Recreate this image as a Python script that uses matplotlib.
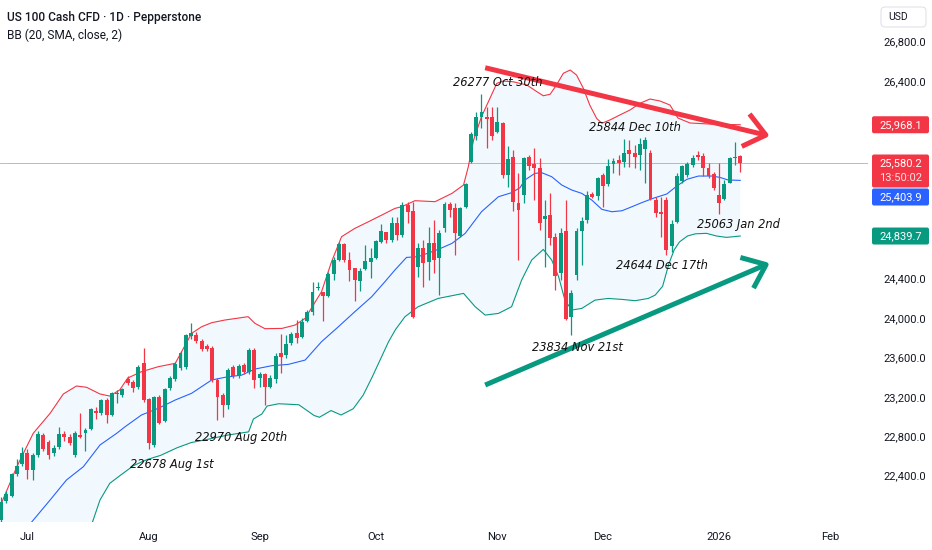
import numpy as np
import matplotlib
matplotlib.use('Agg')
import matplotlib.pyplot as plt
from matplotlib.patches import FancyBboxPatch
from matplotlib import font_manager as fm

# daily candles, first visible bar (late June) to the last one (early Jan)
opens = [21960, 22153, 22203, 22427, 22528, 22640, 22467, 22619, 22822, 22751,
         22640, 22700, 22832, 22802, 22619, 22822, 22842, 22883, 23065, 23045,
         23177, 23025, 23238, 23228, 23390, 23360, 23309, 23552, 23187, 22720,
         23207, 22964, 23299, 23390, 23500, 23511, 23826, 23836, 23775, 23724,
         23704, 23380, 23227, 23126, 23511, 23420, 23532, 23461, 23684, 23403,
         23437, 23312, 23389, 23650, 23633, 23751, 23853, 23819, 23978, 24072,
         24309, 24268, 24234, 24451, 24596, 24755, 24596, 24512, 24383, 24505,
         24579, 24620, 24782, 24877, 24799, 24975, 24850, 25154, 25096, 24528,
         24714, 24579, 24765, 24613, 24917, 25164, 25120, 24839, 25130, 25593,
         25853, 26043, 26049, 26043, 25897, 25982, 25458, 25637, 25171, 25255,
         25637, 25570, 25526, 25008, 25052, 24826, 24461, 24893, 24015, 24444,
         24893, 25002, 25265, 25245, 25458, 25367, 25570, 25610, 25593, 25711,
         25678, 25661, 25718, 25685, 25205, 25087, 25205, 24739, 24985, 25398,
         25459, 25560, 25661, 25651, 25526, 25469, 25256, 25212, 25381, 25628,
         25651]
highs = [22190, 22250, 22440, 22579, 22700, 22680, 22640, 22862, 22840, 22770,
         22720, 22903, 22862, 22830, 22860, 23045, 22890, 23100, 23106, 23190,
         23200, 23260, 23278, 23300, 23420, 23380, 23530, 23704, 23200, 23220,
         23230, 23300, 23420, 23560, 23670, 23850, 23958, 23870, 23800, 23740,
         23720, 23400, 23250, 23500, 23530, 23540, 23550, 23700, 23700, 23464,
         23450, 23430, 23650, 23842, 23836, 23869, 23988, 24005, 24089, 24376,
         24376, 24275, 24478, 24630, 24782, 24765, 24674, 24520, 24512, 24748,
         24714, 24800, 24958, 24883, 25036, 25035, 25188, 25188, 25188, 24772,
         24799, 24934, 25002, 24900, 25188, 25188, 25171, 25137, 25380, 25897,
         26100, 26277, 26151, 26151, 26151, 25999, 25752, 25711, 25475, 25644,
         25661, 25728, 25627, 25204, 25272, 24866, 24917, 25204, 24292, 24917,
         25035, 25299, 25289, 25441, 25475, 25617, 25627, 25661, 25820, 25813,
         25762, 25830, 25844, 25712, 25239, 25239, 25239, 25002, 25475, 25560,
         25594, 25661, 25705, 25678, 25577, 25492, 25584, 25408, 25644, 25796,
         25661]
lows = [21930, 22130, 22190, 22410, 22510, 22376, 22366, 22600, 22660, 22579,
        22610, 22680, 22761, 22720, 22600, 22790, 22660, 22870, 22984, 23030,
        22944, 23010, 23146, 23210, 23330, 23260, 23290, 23160, 22678, 22700,
        22930, 22950, 23280, 23370, 23480, 23490, 23800, 23750, 23670, 23670,
        23359, 22970, 23004, 23090, 23400, 23400, 23440, 23440, 23299, 23312,
        23126, 23295, 23346, 23447, 23606, 23734, 23751, 23809, 23964, 24038,
        24292, 23978, 24224, 24393, 24586, 24579, 24383, 24180, 24282, 24495,
        24410, 24610, 24765, 24765, 24782, 24799, 24833, 24968, 24004, 24427,
        24326, 24393, 24461, 24241, 24883, 25035, 24647, 24826, 25120, 25576,
        25813, 25931, 25728, 25813, 25887, 25424, 25340, 25096, 24596, 25171,
        25509, 25204, 24900, 24528, 24748, 24292, 24393, 23988, 23834, 24393,
        24545, 24968, 25221, 25204, 25137, 25346, 25475, 25458, 25543, 25543,
        25526, 25509, 25373, 25205, 25036, 24833, 24644, 24681, 24968, 25374,
        25442, 25543, 25611, 25448, 25425, 25306, 25063, 25205, 25374, 25560,
        25492]
closes = [22143, 22224, 22427, 22508, 22640, 22467, 22619, 22832, 22680, 22619,
          22690, 22832, 22802, 22741, 22842, 22802, 22873, 23086, 23045, 23177,
          23025, 23248, 23248, 23289, 23349, 23299, 23511, 23177, 22740, 23207,
          22944, 23289, 23400, 23542, 23653, 23836, 23856, 23775, 23694, 23694,
          23380, 23207, 23126, 23481, 23420, 23522, 23461, 23684, 23380, 23437,
          23312, 23396, 23623, 23616, 23741, 23842, 23809, 23971, 24072, 24268,
          24322, 24234, 24451, 24596, 24755, 24596, 24495, 24393, 24485, 24586,
          24613, 24789, 24890, 24799, 24968, 24850, 25154, 25086, 24021, 24714,
          24562, 24765, 24596, 24866, 25164, 25103, 24866, 25120, 25363, 25874,
          26043, 26100, 26022, 25853, 25999, 25458, 25617, 25188, 25103, 25627,
          25549, 25526, 24975, 25042, 24816, 24434, 24873, 23994, 24258, 24893,
          24995, 25255, 25231, 25424, 25346, 25549, 25603, 25583, 25684, 25671,
          25637, 25772, 25813, 25212, 25077, 25063, 24698, 24962, 25448, 25550,
          25570, 25628, 25638, 25526, 25448, 25323, 25171, 25367, 25628, 25645,
          25580.2]

# bollinger bands (bar position, price)
upper_x = [-0.2, 3, 6.1, 9.3, 11.8, 14.3, 16.2, 18.75, 20.6, 22.5, 24, 26.6, 29.8, 33,
           36.1, 38, 39.9, 42.4, 46.8, 48.1, 50, 53.2, 55.7, 57.6, 60.7, 62.6, 64.5,
           67, 69.6, 72.1, 74.6, 75.9, 78.4, 82.2, 85.4, 87.6, 88.5, 89.5, 91, 92.6,
           93.9, 95.1, 97, 99.6, 101.5, 102.7, 104, 105.2, 106.5, 107.8, 109, 110.3,
           111.5, 112.8, 113.8, 115.3, 117.2, 119.1, 121, 122.9, 124.8, 126.7, 128.2,
           130.5, 134.3, 140]
upper = [22095, 22501, 22839, 23042, 23238, 23319, 23306, 23238, 23217, 23280, 23400,
         23464, 23515, 23549, 23853, 23920, 23961, 23988, 24022, 23954, 23900, 23903,
         23937, 24005, 24275, 24579, 24833, 24917, 24985, 25052, 25120, 25137, 25198,
         25188, 25272, 25357, 25542, 25813, 26050, 26236, 26388, 26411, 26404, 26371,
         26303, 26262, 26277, 26371, 26490, 26523, 26472, 26337, 26168, 26033, 25983,
         26016, 26067, 26117, 26185, 26229, 26209, 26168, 26036, 25986, 25975, 25968.1]
basis_x = [5.5, 9.3, 12.4, 15.6, 18.75, 21.9, 23.5, 26.6, 29.8, 33, 36.1, 39.9, 42.4,
           45.6, 48.1, 51.3, 54.4, 57.6, 60.7, 63.9, 67, 70.2, 72.7, 74.6, 76.8, 79,
           82.8, 85.4, 87.9, 91, 94.2, 96.7, 98.3, 99.2, 101.1, 102.4, 104.3, 106.2,
           108.1, 110, 111.9, 113.8, 115.7, 117.6, 119.5, 121.3, 123.5, 126.1, 128,
           129.9, 132.1, 134.6, 136.1, 137.7, 140]
basis = [21920, 22163, 22366, 22501, 22721, 22839, 22906, 23025, 23093, 23177, 23245,
         23380, 23407, 23430, 23491, 23525, 23538, 23582, 23768, 23920, 24072, 24224,
         24376, 24495, 24623, 24630, 24704, 24765, 24866, 25086, 25238, 25279, 25330,
         25407, 25475, 25482, 25441, 25357, 25306, 25272, 25204, 25110, 25086, 25096,
         25137, 25177, 25222, 25266, 25347, 25415, 25448, 25448, 25435, 25408, 25403.9]
lower_x = [17.2, 18.75, 20.6, 22.5, 25.1, 27.65, 30.2, 33.4, 36, 39.2, 43, 46.9, 47.8,
           49.4, 50.4, 52.6, 56.4, 59.3, 60.3, 62.5, 64.4, 66.7, 68.6, 70.3, 73.4,
           74.7, 76.5, 79, 82.8, 87.6, 89.8, 91.7, 94.2, 96.7, 98.6, 100.5, 102.7,
           104.3, 105.6, 106.8, 108.1, 110, 112.5, 115, 117.6, 120.1, 122.6, 123.9,
           125.3, 126.5, 127.5, 128.5, 130, 131.5, 133.6, 135.5, 137.4, 140]
lower = [21920, 22163, 22332, 22409, 22512, 22573, 22615, 22694, 22745, 22779, 22822,
         22854, 22984, 23035, 23116, 23139, 23129, 23020, 23002, 23070, 23025, 23088,
         23227, 23410, 23768, 23890, 24021, 24123, 24207, 24258, 24123, 24038, 24055,
         24123, 24393, 24596, 24704, 24596, 24427, 24190, 24089, 24106, 24190, 24207,
         24197, 24184, 24207, 24241, 24330, 24560, 24700, 24780, 24840, 24862, 24867,
         24840, 24826, 24839.7]

# user drawn trend lines: (bar, price) start and arrow tip
res_line = [(91.7, 26546), (145.6, 25854)]
sup_line = [(91.7, 23329), (145.6, 24566)]

notes = [('26277 Oct 30th', 94.0, 26401),
         ('25844 Dec 10th', 120.1, 25945),
         ('25063 Jan 2nd', 139.6, 24961),
         ('24644 Dec 17th', 125.2, 24536),
         ('23834 Nov 21st', 109.1, 23709),
         ('22970 Aug 20th', 45.4, 22797),
         ('22678 Aug 1st', 32.4, 22518)]

month_pos = [5, 28, 49, 71, 94, 114, 136, 157]
month_lbl = ['Jul', 'Aug', 'Sep', 'Oct', 'Nov', 'Dec', '2026', 'Feb']
price_ticks = [26800, 26400, 24400, 24000, 23600, 23200, 22800, 22400]

GREEN = '#089981'
RED = '#F23645'
BLUE = '#2962FF'
TXT = '#131722'

def has_font(name, **kw):
    try:
        fm.findfont(fm.FontProperties(family=name, **kw), fallback_to_default=False)
        return True
    except Exception:
        return False

ui_font = 'Roboto' if has_font('Roboto') else 'DejaVu Sans'
if has_font('Liberation Sans Narrow', style='italic'):
    note_font = dict(family='Liberation Sans Narrow', style='italic', fontsize=10.5)
else:
    note_font = dict(family='DejaVu Sans', style='italic', stretch='condensed',
                     fontsize=9.2)

W, H = 932, 550
fig = plt.figure(figsize=(W / 100, H / 100), dpi=100)
ax = fig.add_axes([0, 28 / H, 868 / W, 522 / H])
ax.set_xlim(-0.19, 164.2)
ax.set_ylim(21940, 27233)
ax.set_axis_off()

o = np.array(opens, float)
hi = np.array(highs, float)
lo = np.array(lows, float)
c = np.array(closes, float)
x = np.arange(len(c))
col = np.where(c >= o, GREEN, RED)

# band background
ymin = ax.get_ylim()[0]
px = np.r_[upper_x, lower_x[::-1], upper_x[0]]
py = np.r_[upper, lower[::-1], ymin]
ax.fill(px, py, color='#2196F3', alpha=0.055, lw=0, zorder=0)
ax.plot(upper_x, upper, color=RED, lw=0.8, zorder=2)
ax.plot(basis_x, basis, color=BLUE, lw=0.8, zorder=2)
ax.plot(lower_x, lower, color=GREEN, lw=0.8, zorder=2)

ax.axhline(c[-1], color=RED, lw=0.6, alpha=0.55, zorder=1)

ax.vlines(x, lo, hi, colors=col, lw=0.9, zorder=3)
ax.bar(x, np.maximum(np.abs(c - o), 9), bottom=np.minimum(o, c), width=0.74,
       color=col, lw=0, zorder=4)

for line, color in [(res_line, '#F23645'), (sup_line, '#089981')]:
    ax.annotate('', xy=line[1], xytext=line[0], zorder=6,
                arrowprops=dict(arrowstyle='->,head_length=15,head_width=12',
                                mutation_scale=1, lw=3.6, color=color,
                                shrinkA=0, shrinkB=0, capstyle='butt'))

for txt, bx, by in notes:
    ax.text(bx, by, txt, ha='center', va='center', color='#111111', zorder=7,
            **note_font)

def to_px(bx, by):
    return ax.transData.transform((bx, by))

# header
fig.text(7 / W, 1 - 17 / H, 'US 100 Cash CFD · 1D · Pepperstone', family=ui_font,
         fontsize=8.6, weight='medium', color=TXT, ha='left', va='center')
fig.text(7 / W, 1 - 35 / H, 'BB (20, SMA, close, 2)', family=ui_font,
         fontsize=8.6, color=TXT, ha='left', va='center')

# time axis
for pos, lbl in zip(month_pos, month_lbl):
    xp = to_px(pos, 0)[0]
    fig.text(xp / W, 13 / H, lbl, family=ui_font, fontsize=8, color=TXT,
             ha='center', va='center')

# price axis
for v in price_ticks:
    yp = to_px(0, v)[1]
    fig.text(905 / W, yp / H, f'{v:,.1f}', family=ui_font, fontsize=8, color=TXT,
             ha='center', va='center')

usd = FancyBboxPatch((881, H - 27), 45, 20, boxstyle='round,pad=0,rounding_size=4',
                     fc='white', ec='#E0E3EB', lw=0.8, transform=None)
fig.patches.append(usd)
fig.text(898 / W, 1 - 17 / H, 'USD', family=ui_font, fontsize=7.5, color=TXT,
         ha='center', va='center')

tags = [(upper[-1], RED, [f'{upper[-1]:,.1f}']),
        (c[-1], RED, [f'{c[-1]:,.1f}', '13:50:02']),
        (basis[-1], BLUE, [f'{basis[-1]:,.1f}']),
        (lower[-1], GREEN, [f'{lower[-1]:,.1f}'])]
prev_bottom = None
for val, color, lines in tags:
    yc = to_px(0, val)[1]
    h = 16 * len(lines) + 1
    top = yc + 8.5
    if prev_bottom is not None and top > prev_bottom - 1:
        top = prev_bottom - 1
    box = FancyBboxPatch((872, top - h), 57, h, boxstyle='round,pad=0,rounding_size=2',
                         fc=color, ec='none', transform=None)
    fig.patches.append(box)
    for k, s in enumerate(lines):
        fig.text(900.5 / W, (top - 8.5 - 15 * k) / H, s, family=ui_font, fontsize=8,
                 color='white' if k == 0 else '#FFE0E3', ha='center', va='center')
    prev_bottom = top - h

fig.savefig('out.png', dpi=100)
